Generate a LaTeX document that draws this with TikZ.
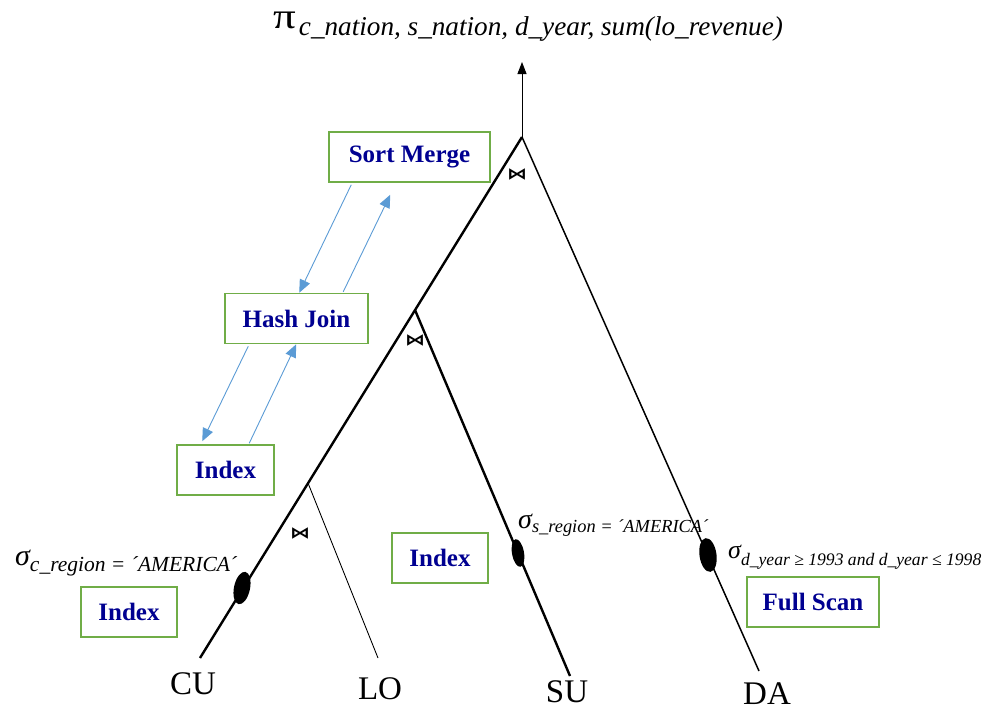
\documentclass[tikz,border=0pt]{standalone}
\usepackage{fontspec}
\setmainfont{Liberation Serif}
\newfontfamily\djv{DejaVu Sans}
\usetikzlibrary{arrows.meta,shapes.geometric,calc}
\definecolor{boxgreen}{RGB}{112,173,71}
\definecolor{opblue}{RGB}{0,0,145}
\definecolor{arrblue}{RGB}{91,155,213}
\begin{document}
\begin{tikzpicture}[x=1pt,y=-1pt,
 opbox/.style={draw=boxgreen,line width=1.5pt,fill=white,text=opblue,font=\fontsize{25}{30}\selectfont\bfseries,minimum height=50pt,inner sep=0pt},
 tree/.style={line width=2.4pt},
 rel/.style={font=\fontsize{33}{36}\selectfont,inner sep=0pt},
 sel/.style={ellipse,fill=black,inner sep=0pt},
 jn/.style={font=\djv\bfseries\fontsize{16}{16}\selectfont,inner sep=0pt,xscale=1.25},
 cost/.style={arrblue,line width=0.9pt,-{Triangle[length=13pt,width=11pt]}},
 lbl/.style={anchor=base west,inner sep=0pt}]
\useasboundingbox (0,0) rectangle (988,712);
% tree skeleton
\coordinate (j1) at (522,137);
\coordinate (j2) at (415,310);
\coordinate (j3) at (308,483);
\coordinate (top) at (522,62);
\coordinate (cuend) at (200,658);
\coordinate (loend) at (378,658);
\coordinate (suend) at (570,676);
\coordinate (daend) at (759,671);
\draw[line width=1pt,-{Triangle[length=12pt,width=9pt]}] (j1) -- (top);
\draw[tree] (j1) -- (cuend);
\draw[tree] (j2) -- (suend);
\draw[line width=1.5pt] (j1) -- (daend);
\draw[line width=0.9pt] (j3) -- (loend);
% selections
\node[sel,minimum width=16pt,minimum height=33pt,rotate=-12] (ec) at (242,588) {};
\node[sel,minimum width=12pt,minimum height=28pt,rotate=10] (es) at (518,553) {};
\node[sel,minimum width=17pt,minimum height=34pt,rotate=8] (ed) at (708,555) {};
% join symbols
\node[jn] (b1) at (517,174) {⋈};
\node[jn] (b2) at (415,340) {⋈};
\node[jn] (b3) at (300,533) {⋈};
% relations
\node[rel] (cu) at (193,684) {CU};
\node[rel] (lo) at (380,689) {LO};
\node[rel] (su) at (567,692) {SU};
\node[rel] (da) at (767,694) {DA};
% projection
\node[lbl] (pl) at (273,28) {\scalebox{1.25}[1]{\fontsize{36}{36}\selectfont π}\hspace{3pt}\raisebox{-7pt}{\fontsize{27.2}{27}\selectfont\itshape c\_nation, s\_nation, d\_year, sum(lo\_revenue)}};
% selection labels
\node[lbl] (sc) at (15,565) {{\fontsize{30}{30}\selectfont\itshape σ}\raisebox{-6pt}{\fontsize{21.5}{21}\selectfont\itshape c\_region = ´AMERICA´}};
\node[lbl] (ss) at (518,528) {{\fontsize{28}{28}\selectfont\itshape σ}\raisebox{-4pt}{\fontsize{18.4}{18}\selectfont\itshape s\_region = ´AMERICA´}};
\node[lbl] (sd) at (728,558) {{\fontsize{26}{26}\selectfont\itshape σ}\raisebox{-7pt}{\fontsize{17.6}{18}\selectfont\itshape d\_year ≥ 1993 and d\_year ≤ 1998}};
% operator boxes
\node[opbox,minimum width=161pt] (sm) at (409.5,157) {Sort Merge};
\node[opbox,minimum width=143pt] (hj) at (296.5,318.5) {Hash Join};
\node[opbox,minimum width=97pt] (ix1) at (225.5,470) {Index};
\node[opbox,minimum width=96pt] (ix2) at (129,612) {Index};
\node[opbox,minimum width=96pt] (ix3) at (440,558) {Index};
\node[opbox,minimum width=132pt] (fs) at (813,602) {Full Scan};
% cost arrows
\draw[cost] ($(sm.south west)+(23,2)$) -- ($(hj.north west)+(75,0)$);
\draw[cost] ($(hj.north west)+(119,-1)$) -- ($(sm.south west)+(62,12)$);
\draw[cost] ($(hj.south west)+(24,2)$) -- ($(ix1.north west)+(26,-3)$);
\draw[cost] ($(ix1.north west)+(73,-1)$) -- ($(hj.south west)+(72,0)$);
\end{tikzpicture}
\end{document}
